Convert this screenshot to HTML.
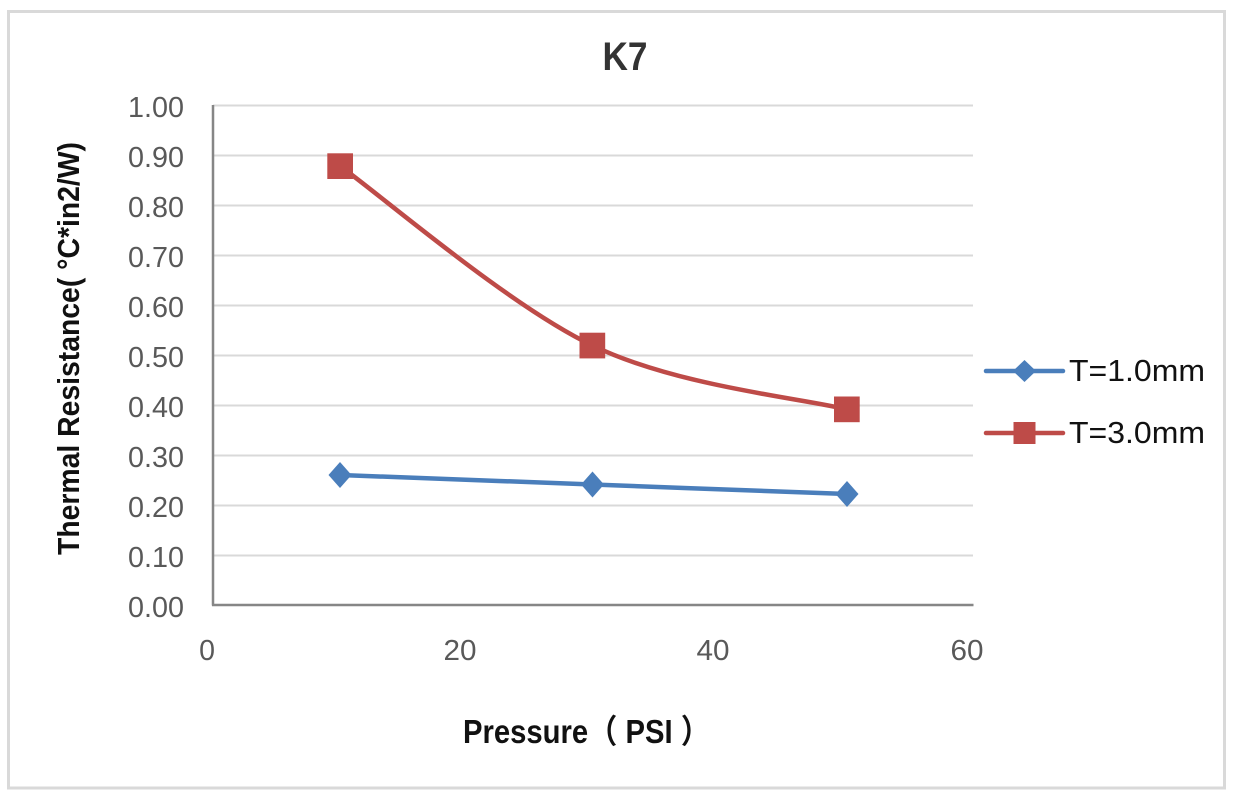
<!DOCTYPE html>
<html><head><meta charset="utf-8"><style>
html,body{margin:0;padding:0;background:#fff;}
svg{display:block;}
</style></head><body>
<svg width="1233" height="800" viewBox="0 0 1233 800" xmlns="http://www.w3.org/2000/svg">
<rect x="0" y="0" width="1233" height="800" fill="#ffffff"/>
<rect x="8.5" y="11.5" width="1216" height="776.5" fill="#ffffff" stroke="#d9d9d9" stroke-width="3"/>
<!-- gridlines -->
<g stroke="#d9d9d9" stroke-width="2">
<line x1="213" y1="105.5" x2="973" y2="105.5"/>
<line x1="213" y1="155.5" x2="973" y2="155.5"/>
<line x1="213" y1="205.5" x2="973" y2="205.5"/>
<line x1="213" y1="255.5" x2="973" y2="255.5"/>
<line x1="213" y1="305.5" x2="973" y2="305.5"/>
<line x1="213" y1="355.5" x2="973" y2="355.5"/>
<line x1="213" y1="405.5" x2="973" y2="405.5"/>
<line x1="213" y1="455.5" x2="973" y2="455.5"/>
<line x1="213" y1="505.5" x2="973" y2="505.5"/>
<line x1="213" y1="555.5" x2="973" y2="555.5"/>
</g>
<!-- axes -->
<g stroke="#868686" stroke-width="2.5" fill="none">
<line x1="213" y1="105" x2="213" y2="605.5"/>
<line x1="212" y1="605" x2="973.5" y2="605"/>
</g>
<!-- y tick labels -->
<g font-family="Liberation Sans, sans-serif" font-size="28.5" fill="#595959" text-anchor="end">
<text x="184" y="117" textLength="56" lengthAdjust="spacingAndGlyphs">1.00</text>
<text x="184" y="167" textLength="56" lengthAdjust="spacingAndGlyphs">0.90</text>
<text x="184" y="217" textLength="56" lengthAdjust="spacingAndGlyphs">0.80</text>
<text x="184" y="267" textLength="56" lengthAdjust="spacingAndGlyphs">0.70</text>
<text x="184" y="317" textLength="56" lengthAdjust="spacingAndGlyphs">0.60</text>
<text x="184" y="367" textLength="56" lengthAdjust="spacingAndGlyphs">0.50</text>
<text x="184" y="417" textLength="56" lengthAdjust="spacingAndGlyphs">0.40</text>
<text x="184" y="467" textLength="56" lengthAdjust="spacingAndGlyphs">0.30</text>
<text x="184" y="517" textLength="56" lengthAdjust="spacingAndGlyphs">0.20</text>
<text x="184" y="567" textLength="56" lengthAdjust="spacingAndGlyphs">0.10</text>
<text x="184" y="617" textLength="56" lengthAdjust="spacingAndGlyphs">0.00</text>
</g>
<!-- x tick labels -->
<g font-family="Liberation Sans, sans-serif" font-size="28.5" fill="#595959" text-anchor="middle">
<text x="207" y="660">0</text>
<text x="460" y="660" textLength="33" lengthAdjust="spacingAndGlyphs">20</text>
<text x="713" y="660" textLength="33" lengthAdjust="spacingAndGlyphs">40</text>
<text x="967" y="660" textLength="33" lengthAdjust="spacingAndGlyphs">60</text>
</g>
<!-- title -->
<text x="625" y="70" font-family="Liberation Sans, sans-serif" font-weight="bold" font-size="40" fill="#333333" text-anchor="middle" textLength="45" lengthAdjust="spacingAndGlyphs">K7</text>
<!-- x axis title -->
<text x="463" y="743" font-family="Liberation Sans, 'Noto Sans CJK SC', sans-serif" font-weight="bold" font-size="33" fill="#111111" textLength="247" lengthAdjust="spacingAndGlyphs">Pressure（ PSI ）</text>
<!-- y axis title -->
<text transform="translate(79,348.5) rotate(-90)" font-family="Liberation Sans, sans-serif" font-weight="bold" font-size="31" fill="#111111" text-anchor="middle" textLength="413" lengthAdjust="spacingAndGlyphs">Thermal Resistance( °C*in2/W)</text>
<!-- red series -->
<path d="M340,166 C382.2,196.2 508.6,305.4 592.5,345.5 C677,386.5 804.3,398.5 847,409.5" fill="none" stroke="#be4b48" stroke-width="4.5" stroke-linecap="round" stroke-linejoin="round"/>
<g fill="#be4b48">
<rect x="327.3" y="153.3" width="25.7" height="25.7"/>
<rect x="579.5" y="332.7" width="25.7" height="25.7"/>
<rect x="834" y="396.5" width="25.7" height="25.7"/>
</g>
<!-- blue series -->
<path d="M340,475 C382,476.8 508.6,481.2 592.5,484.5 C677,487.8 804.3,492.5 847,494" fill="none" stroke="#4a7ebb" stroke-width="4.5" stroke-linecap="round" stroke-linejoin="round"/>
<g fill="#4a7ebb">
<polygon points="340,462 351.5,475 340,488 328.5,475"/>
<polygon points="592.5,471.5 604,484.5 592.5,497.5 581,484.5"/>
<polygon points="847,481 858.5,494 847,507 835.5,494"/>
</g>
<!-- legend -->
<line x1="986" y1="371" x2="1063" y2="371" stroke="#4a7ebb" stroke-width="4.5" stroke-linecap="round"/>
<polygon points="1024.5,360 1036,371 1024.5,382 1013,371" fill="#4a7ebb"/>
<line x1="986" y1="433" x2="1063" y2="433" stroke="#be4b48" stroke-width="4.5" stroke-linecap="round"/>
<rect x="1013.5" y="422" width="22" height="22" fill="#be4b48"/>
<g font-family="Liberation Sans, sans-serif" font-size="31" fill="#111111">
<text x="1069" y="381" textLength="136" lengthAdjust="spacingAndGlyphs">T=1.0mm</text>
<text x="1069" y="443" textLength="136" lengthAdjust="spacingAndGlyphs">T=3.0mm</text>
</g>
</svg>
</body></html>
